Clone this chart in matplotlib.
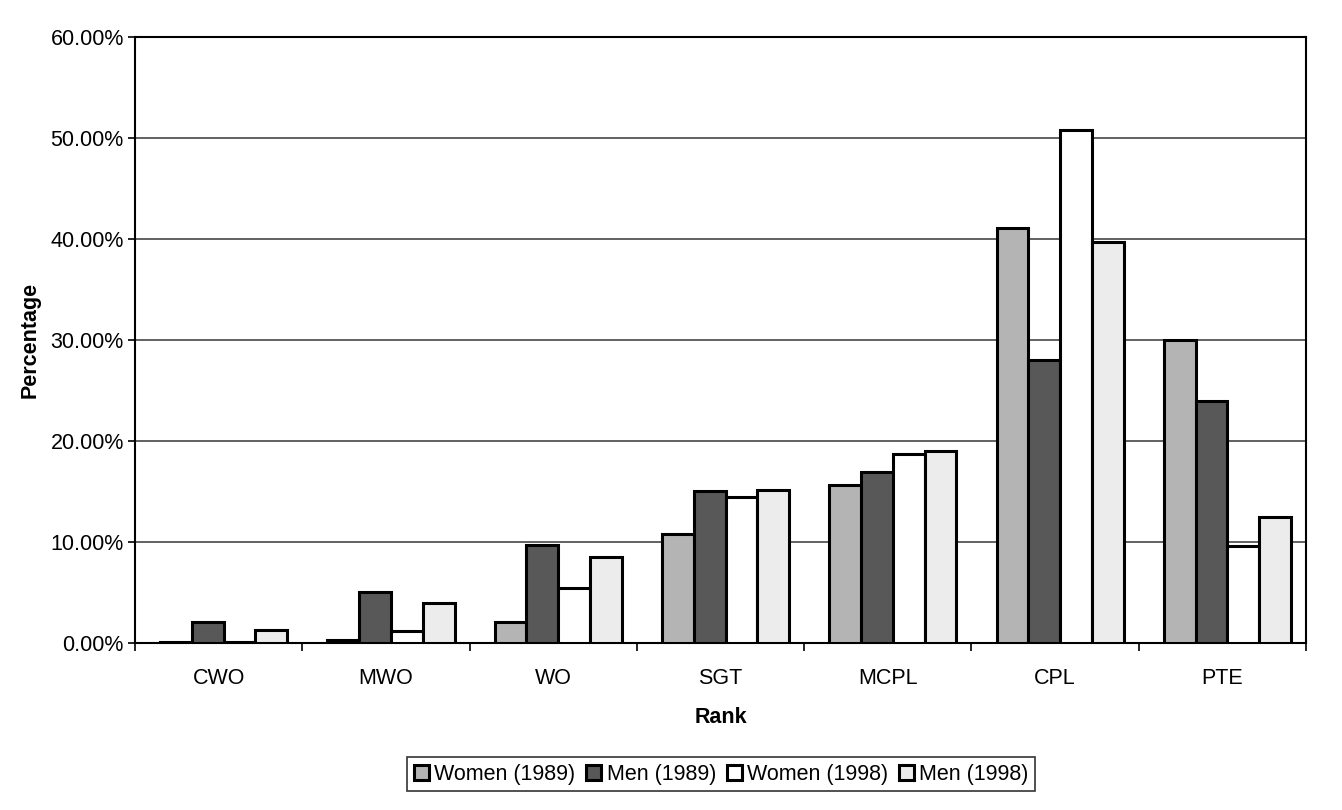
import matplotlib
matplotlib.use("Agg")
import matplotlib.pyplot as plt
import numpy as np
from matplotlib.ticker import FuncFormatter, FixedLocator

plt.rcParams['font.family'] = ['Liberation Sans', 'DejaVu Sans']

categories = ["CWO", "MWO", "WO", "SGT", "MCPL", "CPL", "PTE"]
women_1989 = [0.07, 0.3, 2.1, 10.8, 15.6, 41.1, 30.0]
men_1989 = [2.1, 5.0, 9.7, 15.0, 16.9, 28.0, 24.0]
women_1998 = [0.1, 1.2, 5.4, 14.5, 18.7, 50.8, 9.6]
men_1998 = [1.3, 4.0, 8.5, 15.1, 19.0, 39.7, 12.5]
series_labels = ["Women (1989)", "Men (1989)", "Women (1998)", "Men (1998)"]
series_colors = ["#b4b4b4", "#585858", "#ffffff", "#ececec"]

FS = 15.5

fig = plt.figure(figsize=(13.42, 8.10), dpi=100)
ax = fig.add_axes([0.1006, 0.2062, 0.8726, 0.7481])

series = [women_1989, men_1989, women_1998, men_1998]
x = np.arange(len(categories))
w = 0.19
offsets = (np.arange(4) - 1.5) * w + 0.03
for vals, lab, col, off in zip(series, series_labels, series_colors, offsets):
    ax.bar(x + off, vals, width=w, color=col, edgecolor="black", linewidth=2.2,
           label=lab, zorder=3)

ax.set_xlim(-0.5, len(categories) - 0.5)
ax.set_ylim(0, 60)
ax.set_yticks(np.arange(0, 61, 10))
ax.yaxis.set_major_formatter(FuncFormatter(lambda v, p: f"{v:.2f}%"))
ax.yaxis.grid(True, color="#555555", linewidth=1.3, zorder=0)
ax.set_axisbelow(True)

ax.set_xticks(x)
ax.set_xticklabels(categories)
ax.tick_params(axis="x", which="major", length=0, pad=18, labelsize=FS)
ax.xaxis.set_minor_locator(FixedLocator(np.arange(-0.5, len(categories), 1.0)))
ax.tick_params(axis="x", which="minor", length=6, width=1.2, direction="out")
ax.tick_params(axis="y", length=5, width=1.2, direction="out", labelsize=FS, pad=3)

for s in ax.spines.values():
    s.set_linewidth(1.5)
    s.set_color("black")

ax.set_xlabel("Rank", fontsize=FS, fontweight="bold", labelpad=13)
ax.set_ylabel("Percentage", fontsize=FS, fontweight="bold", labelpad=7)

leg = fig.legend(loc="center", bbox_to_anchor=(0.5375, 0.0442), ncol=4,
                 fontsize=FS, frameon=True, fancybox=False, shadow=False,
                 handlelength=0.7, handleheight=0.7, handletextpad=0.25,
                 columnspacing=0.5, borderpad=0.3, borderaxespad=0)
leg.get_frame().set_edgecolor("black")
leg.get_frame().set_linewidth(1.2)

fig.savefig("out.png", dpi=100)
